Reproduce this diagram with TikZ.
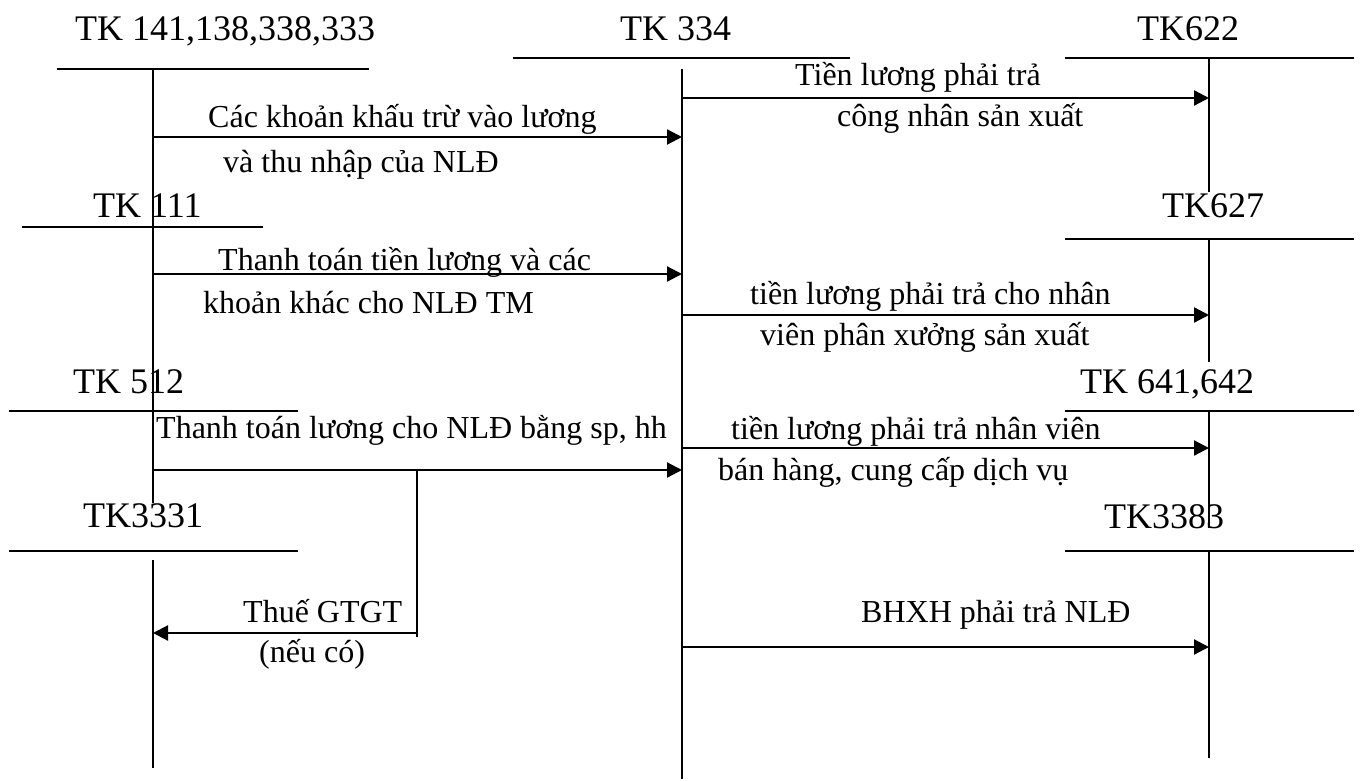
\documentclass[tikz,border=0pt]{standalone}
\usepackage{fontspec}
\setmainfont{Liberation Serif}
\usetikzlibrary{arrows.meta}
\begin{document}
\begin{tikzpicture}[x=1pt,y=-1pt,
  title/.style={anchor=base west,inner sep=0pt,font=\fontsize{36}{40}\selectfont},
  lbl/.style={anchor=base west,inner sep=0pt,font=\fontsize{32}{36}\selectfont},
  tline/.style={line width=2pt},
  vline/.style={line width=1.6pt},
  flow/.style={line width=2.2pt,-{Triangle[length=15pt,width=15pt]}},
  plain/.style={line width=1.6pt}]
\useasboundingbox (0,0) rectangle (1360,781);
% titles
\node[title] (t1) at (75,41) {TK 141,138,338,333};
\node[title] (t334) at (620,41) {TK 334};
\node[title] (t622) at (1137,41) {TK622};
\node[title] (t111) at (93,217) {TK 111};
\node[title] (t627) at (1162,217) {TK627};
\node[title] (t512) at (73,393) {TK 512};
\node[title] (t641) at (1080,393) {TK 641,642};
\node[title] (t3331) at (83,527) {TK3331};
\node[title] (t3383) at (1104,528) {TK3383};
% T-account coordinates
\coordinate (h1a) at (57,69);   \coordinate (h1b) at (369,69);
\coordinate (v1a) at (153,69);  \coordinate (v1b) at (153,503);
\coordinate (h334a) at (513,58); \coordinate (h334b) at (850,58);
\coordinate (v334a) at (682,69); \coordinate (v334b) at (682,779);
\coordinate (h622a) at (1065,58); \coordinate (h622b) at (1354,58);
\coordinate (v622a) at (1209,58); \coordinate (v622b) at (1209,192);
\coordinate (h111a) at (22,227); \coordinate (h111b) at (263,227);
\coordinate (h627a) at (1065,239); \coordinate (h627b) at (1354,239);
\coordinate (v627a) at (1209,239); \coordinate (v627b) at (1209,362);
\coordinate (h512a) at (9,411); \coordinate (h512b) at (298,411);
\coordinate (h641a) at (1065,411); \coordinate (h641b) at (1354,411);
\coordinate (v641a) at (1209,411); \coordinate (v641b) at (1209,528);
\coordinate (h3331a) at (9,551); \coordinate (h3331b) at (298,551);
\coordinate (v3331a) at (153,560); \coordinate (v3331b) at (153,768);
\coordinate (h3383a) at (1065,551); \coordinate (h3383b) at (1354,551);
\coordinate (v3383a) at (1209,551); \coordinate (v3383b) at (1209,758);
\draw[tline] (h1a) -- (h1b);   \draw[vline] (v1a) -- (v1b);
\draw[tline] (h334a) -- (h334b); \draw[vline] (v334a) -- (v334b);
\draw[tline] (h622a) -- (h622b); \draw[vline] (v622a) -- (v622b);
\draw[tline] (h111a) -- (h111b);
\draw[tline] (h627a) -- (h627b); \draw[vline] (v627a) -- (v627b);
\draw[tline] (h512a) -- (h512b);
\draw[tline] (h641a) -- (h641b); \draw[vline] (v641a) -- (v641b);
\draw[tline] (h3331a) -- (h3331b); \draw[vline] (v3331a) -- (v3331b);
\draw[tline] (h3383a) -- (h3383b); \draw[vline] (v3383a) -- (v3383b);
% arrow end points
\coordinate (a1s) at (682,98);  \coordinate (a1e) at (1209,98);
\coordinate (a2s) at (153,137); \coordinate (a2e) at (682,137);
\coordinate (a3s) at (153,274); \coordinate (a3e) at (682,274);
\coordinate (a4s) at (682,315); \coordinate (a4e) at (1209,315);
\coordinate (a5s) at (153,470); \coordinate (a5e) at (682,470);
\coordinate (a6s) at (682,448); \coordinate (a6e) at (1209,448);
\coordinate (brt) at (417,470); \coordinate (brb) at (417,637);
\coordinate (a7s) at (417,633); \coordinate (a7e) at (153,633);
\coordinate (a8s) at (682,647); \coordinate (a8e) at (1209,647);
\draw[flow] (a1s) -- (a1e);
\draw[flow] (a2s) -- (a2e);
\draw[flow] (a3s) -- (a3e);
\draw[flow] (a4s) -- (a4e);
\draw[flow] (a5s) -- (a5e);
\draw[flow] (a6s) -- (a6e);
\draw[plain] (brt) -- (brb);
\draw[flow] (a7s) -- (a7e);
\draw[flow] (a8s) -- (a8e);
% labels
\node[lbl] (l1a) at (795,86) {Tiền lương phải trả};
\node[lbl] (l1b) at (837,127) {công nhân sản xuất};
\node[lbl] (l2a) at (208,128) {Các khoản khấu trừ vào lương};
\node[lbl] (l2b) at (223,172) {và thu nhập của NLĐ};
\node[lbl] (l3a) at (218,270) {Thanh toán tiền lương và các};
\node[lbl] (l3b) at (203,313) {khoản khác cho NLĐ TM};
\node[lbl] (l4a) at (750,304) {tiền lương phải trả cho nhân};
\node[lbl] (l4b) at (760,345) {viên phân xưởng sản xuất};
\node[lbl] (l5) at (156,438) {Thanh toán lương cho NLĐ bằng sp, hh};
\node[lbl] (l6a) at (731,439) {tiền lương phải trả nhân viên};
\node[lbl] (l6b) at (718,480) {bán hàng, cung cấp dịch vụ};
\node[lbl] (l7a) at (243,622) {Thuế GTGT};
\node[lbl] (l7b) at (259,662) {(nếu có)};
\node[lbl] (l8) at (861,622) {BHXH phải trả NLĐ};
\end{tikzpicture}
\end{document}
